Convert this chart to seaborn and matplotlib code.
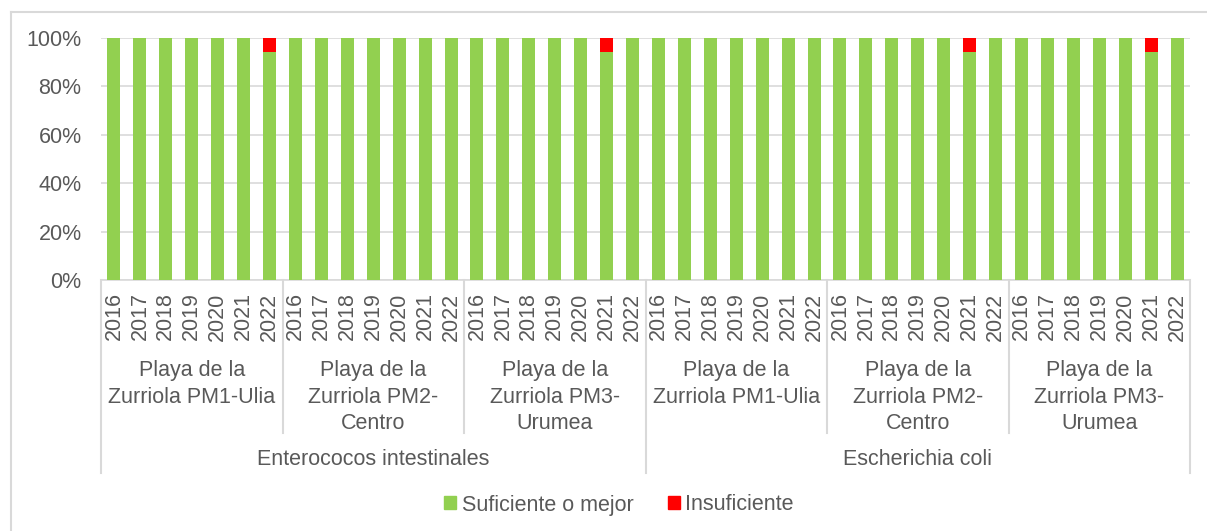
import numpy as np
import pandas as pd
import matplotlib
matplotlib.use("Agg")
import matplotlib.pyplot as plt
import matplotlib.patches as mpatches
import seaborn as sns

# ============================
# 데이터
# ============================
parametros = ["Enterococos intestinales", "Escherichia coli"]
puntos = [
    "Playa de la\nZurriola PM1-Ulia",
    "Playa de la\nZurriola PM2-\nCentro",
    "Playa de la\nZurriola PM3-\nUrumea",
]
anios = ["2016", "2017", "2018", "2019", "2020", "2021", "2022"]

# % suficiente o mejor, por parametro / punto / año
suficiente = [
    # Enterococos intestinales
    [100, 100, 100, 100, 100, 100, 94.1],
    [100, 100, 100, 100, 100, 100, 100],
    [100, 100, 100, 100, 100, 94.1, 100],
    # Escherichia coli
    [100, 100, 100, 100, 100, 100, 100],
    [100, 100, 100, 100, 100, 94.1, 100],
    [100, 100, 100, 100, 100, 94.1, 100],
]
insuficiente = [
    [0, 0, 0, 0, 0, 0, 5.9],
    [0, 0, 0, 0, 0, 0, 0],
    [0, 0, 0, 0, 0, 5.9, 0],
    [0, 0, 0, 0, 0, 0, 0],
    [0, 0, 0, 0, 0, 5.9, 0],
    [0, 0, 0, 0, 0, 5.9, 0],
]

rows = []
for g, (suf, ins) in enumerate(zip(suficiente, insuficiente)):
    for a, anio in enumerate(anios):
        rows.append({
            "id": f"{g}-{anio}",
            "anio": anio,
            "suficiente": suf[a],
            "total": suf[a] + ins[a],
        })
df = pd.DataFrame(rows)

VERDE = "#92d050"
ROJO = "#ff0000"
GRIS_TXT = "#595959"
GRIS_LIN = "#d9d9d9"
FS = 15.5

plt.rcParams["font.family"] = ["Liberation Sans", "DejaVu Sans"]

W, H = 1207, 531
fig = plt.figure(figsize=(W / 100, H / 100), dpi=100)
ax = fig.add_axes([101 / W, 1 - 280 / H, (1190 - 101) / W, (280 - 38) / H])

# ============================
# 막대 (누적)
# ============================
sns.barplot(data=df, x="id", y="total", color=ROJO, width=0.5,
            saturation=1, ax=ax, zorder=2)
sns.barplot(data=df, x="id", y="suficiente", color=VERDE, width=0.5,
            saturation=1, ax=ax, zorder=3)

n = len(df)
ax.set_xlim(-0.5, n - 0.5)
ax.set_ylim(0, 100)
ax.set_yticks(np.arange(0, 101, 20))
ax.set_yticklabels([f"{v}%" for v in range(0, 101, 20)])
ax.set_xticks(range(n))
ax.set_xticklabels(df["anio"], rotation=90)
ax.set_xlabel("")
ax.set_ylabel("")
ax.tick_params(axis="both", length=0, labelsize=FS, colors=GRIS_TXT)
ax.tick_params(axis="x", pad=9)
ax.tick_params(axis="y", pad=14)
ax.grid(axis="y", color=GRIS_LIN, linewidth=1.2, zorder=0)
ax.set_axisbelow(True)
for s in ["top", "right", "left"]:
    ax.spines[s].set_visible(False)
ax.spines["bottom"].set_color(GRIS_LIN)
ax.spines["bottom"].set_linewidth(1.2)

# ============================
# 카테고리 구분선 / 라벨
# ============================
trans = ax.get_xaxis_transform()
ax_h = 280 - 38
y_corto = -(433 - 280) / ax_h
y_largo = -(473 - 280) / ax_h
n_anios = len(anios)
for i in range(len(suficiente) + 1):
    xpos = i * n_anios - 0.5
    y_fin = y_largo if i % len(puntos) == 0 else y_corto
    ax.plot([xpos, xpos], [0, y_fin], color=GRIS_LIN, lw=1.5,
            transform=trans, clip_on=False)

for g in range(len(suficiente)):
    xc = g * n_anios + (n_anios - 1) / 2
    ax.text(xc, -(360 - 280) / ax_h, puntos[g % len(puntos)], transform=trans,
            ha="center", va="top", fontsize=FS, color=GRIS_TXT,
            linespacing=1.35)

for p, nombre in enumerate(parametros):
    xc = p * n_anios * len(puntos) + (n_anios * len(puntos) - 1) / 2
    ax.text(xc, -(460 - 280) / ax_h, nombre, transform=trans,
            ha="center", va="center", fontsize=FS, color=GRIS_TXT)

# ============================
# 범례
# ============================
handles = [mpatches.Patch(color=VERDE, label="Suficiente o mejor"),
           mpatches.Patch(color=ROJO, label="Insuficiente")]
leg = fig.legend(handles=handles, loc="center", ncol=2,
                 bbox_to_anchor=(619 / W, 1 - 505 / H), frameon=False,
                 fontsize=FS, handlelength=0.55, handleheight=0.55,
                 handletextpad=0.25, columnspacing=1.6)
for t in leg.get_texts():
    t.set_color(GRIS_TXT)

# 외곽 테두리
fig.add_artist(plt.Line2D([11 / W, 11 / W], [0, 1 - 12 / H],
                          color=GRIS_LIN, lw=1.5))
fig.add_artist(plt.Line2D([11 / W, 1], [1 - 12 / H, 1 - 12 / H],
                          color=GRIS_LIN, lw=1.5))

fig.savefig("out.png", dpi=100)
